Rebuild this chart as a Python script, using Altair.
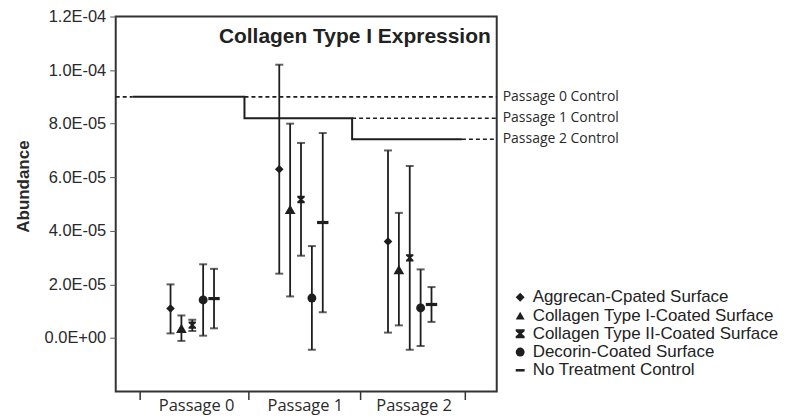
import json
import altair as alt
import pandas as pd

# ---------------- data ----------------
passages = ["Passage 0", "Passage 1", "Passage 2"]
treatments = [
    "Aggrecan-Cpated Surface",
    "Collagen Type I-Coated Surface",
    "Collagen Type II-Coated Surface",
    "Decorin-Coated Surface",
    "No Treatment Control",
]

aggrecan_mean = [1.10e-5, 6.30e-5, 3.60e-5]
aggrecan_low = [1.7e-6, 2.40e-5, 2.0e-6]
aggrecan_high = [2.00e-5, 1.02e-4, 7.00e-5]

col1_mean = [3.6e-6, 4.80e-5, 2.55e-5]
col1_low = [-1.1e-6, 1.55e-5, 4.7e-6]
col1_high = [8.4e-6, 8.00e-5, 4.67e-5]

col2_mean = [4.8e-6, 5.17e-5, 2.99e-5]
col2_low = [2.6e-6, 3.07e-5, -4.4e-6]
col2_high = [6.8e-6, 7.28e-5, 6.42e-5]

decorin_mean = [1.42e-5, 1.49e-5, 1.12e-5]
decorin_low = [8.5e-7, -4.4e-6, -3.0e-6]
decorin_high = [2.75e-5, 3.43e-5, 2.56e-5]

notreat_mean = [1.47e-5, 4.31e-5, 1.25e-5]
notreat_low = [3.6e-6, 9.6e-6, 6.0e-6]
notreat_high = [2.58e-5, 7.65e-5, 1.90e-5]

control_labels = ["Passage 0 Control", "Passage 1 Control", "Passage 2 Control"]
control_values = [9.0e-5, 8.2e-5, 7.42e-5]
control_step_x = [-0.55, 0.48, 1.47, 2.48]

y_tick_values = [0.0, 2e-5, 4e-5, 6e-5, 8e-5, 1.0e-4, 1.2e-4]
y_tick_labels = ["0.0E+00", "2.0E-05", "4.0E-05", "6.0E-05", "8.0E-05", "1.0E-04", "1.2E-04"]
x_tick_values = [-0.48, 0.52, 1.54, 2.51]

title_text = "Collagen Type I Expression"
y_title = "Abundance"

# ---------------- tables ----------------
means = [aggrecan_mean, col1_mean, col2_mean, decorin_mean, notreat_mean]
lows = [aggrecan_low, col1_low, col2_low, decorin_low, notreat_low]
highs = [aggrecan_high, col1_high, col2_high, decorin_high, notreat_high]

hourglass = "M-1,-1L1,-1L1,-0.55L0.35,0L1,0.55L1,1L-1,1L-1,0.55L-0.35,0L-1,-0.55Z"
dash = "M-1,-0.28L1,-0.28L1,0.28L-1,0.28Z"
shapes = ["diamond", "triangle-up", hourglass, "circle", dash]
marker_sizes = [75, 115, 55, 80, 130]

rows = []
for ti, t in enumerate(treatments):
    for gi, p in enumerate(passages):
        rows.append({
            "treatment": t,
            "passage": p,
            "x": gi + (ti - 2) * 0.1,
            "mean": means[ti][gi],
            "low": lows[ti][gi],
            "high": highs[ti][gi],
            "sz": marker_sizes[ti],
        })
df = pd.DataFrame(rows)

xmin, xmax = -0.704, 2.8
ymin, ymax = -2e-5, 1.2e-4

step_df = pd.DataFrame({"x": control_step_x,
                        "y": control_values + [control_values[-1]]})
dash_df = pd.DataFrame({
    "x": [xmin, control_step_x[1], control_step_x[2], control_step_x[3]],
    "x2": [control_step_x[0], xmax, xmax, xmax],
    "y": [control_values[0], control_values[0], control_values[1], control_values[2]],
})
ctrl_df = pd.DataFrame({"label": control_labels, "y": control_values, "x": [xmax] * 3})
cat_df = pd.DataFrame({"label": passages, "x": [i + 0.04 for i in range(len(passages))]})

# ---------------- scales / encodings ----------------
xs = alt.Scale(domain=[xmin, xmax], nice=False, zero=False)
ys = alt.Scale(domain=[ymin, ymax], nice=False, zero=False)

label_expr = json.dumps(y_tick_labels) + "[round(datum.value / 2e-5)]"

x_axis = alt.Axis(values=x_tick_values, labels=False, domain=False, grid=False,
                  ticks=True, tickSize=8, tickWidth=1.5, tickColor="#333", title=None)
y_axis = alt.Axis(values=y_tick_values, labelExpr=label_expr, domain=False, grid=False,
                  tickSize=6, tickWidth=1, tickColor="#555",
                  labelFont="Liberation Sans", labelFontSize=16.5, labelColor="#2a2a2a",
                  labelPadding=4,
                  title=y_title, titleFont="Liberation Sans", titleFontSize=17,
                  titleFontWeight="bold", titleColor="#2a2a2a",
                  titleX=-83, titleY=170)

INK = "#1e1e1e"

bars = alt.Chart(df).mark_rule(color=INK, strokeWidth=1.8).encode(
    x=alt.X("x:Q", scale=xs, axis=x_axis),
    y=alt.Y("low:Q", scale=ys, axis=y_axis),
    y2="high:Q",
)
cap_lo = alt.Chart(df).mark_tick(color=INK, orient="horizontal", size=8, thickness=2).encode(
    x=alt.X("x:Q", scale=xs), y=alt.Y("low:Q", scale=ys))
cap_hi = alt.Chart(df).mark_tick(color=INK, orient="horizontal", size=8, thickness=2).encode(
    x=alt.X("x:Q", scale=xs), y=alt.Y("high:Q", scale=ys))

points = alt.Chart(df).mark_point(filled=True, opacity=1, color=INK, strokeWidth=0).encode(
    x=alt.X("x:Q", scale=xs),
    y=alt.Y("mean:Q", scale=ys),
    shape=alt.Shape("treatment:N",
                    scale=alt.Scale(domain=treatments, range=shapes),
                    legend=alt.Legend(title=None, orient="none", legendX=397, legendY=273,
                                      padding=0, labelFont="Liberation Sans",
                                      labelFontSize=17, labelColor="#222", labelLimit=0,
                                      symbolSize=80, symbolFillColor=INK,
                                      symbolStrokeWidth=0, labelOffset=4,
                                      rowPadding=0.3)),
    size=alt.Size("sz:Q", scale=None),
)

step = alt.Chart(step_df).mark_line(interpolate="step-after", color=INK, strokeWidth=2).encode(
    x=alt.X("x:Q", scale=xs), y=alt.Y("y:Q", scale=ys))

dashes = alt.Chart(dash_df).mark_rule(color=INK, strokeWidth=1.6, strokeDash=[4, 3]).encode(
    x=alt.X("x:Q", scale=xs), x2="x2:Q", y=alt.Y("y:Q", scale=ys))

ctrl_text = alt.Chart(ctrl_df).mark_text(align="left", baseline="middle", dx=6,
                                         font="Open Sans", fontSize=14, color="#2a2a2a").encode(
    x=alt.X("x:Q", scale=xs), y=alt.Y("y:Q", scale=ys), text="label:N")

cat_text = alt.Chart(cat_df).mark_text(align="center", baseline="alphabetic",
                                       font="Open Sans", fontSize=16.5, color="#2a2a2a").encode(
    x=alt.X("x:Q", scale=xs), y=alt.value(396), text="label:N")

title = alt.Chart(pd.DataFrame({"t": [title_text]})).mark_text(
    align="right", baseline="alphabetic", font="Liberation Sans", fontSize=21,
    fontWeight="bold", color="#222").encode(
    x=alt.value(376), y=alt.value(27), text="t:N")

chart = alt.layer(dashes, step, bars, cap_lo, cap_hi, points, ctrl_text, cat_text, title).properties(
    width=382, height=376,
    autosize=alt.AutoSizeParams(type="none"),
    padding={"left": 108, "top": 8, "right": 286, "bottom": 24},
).configure_view(stroke="#333", strokeWidth=2)

chart.save("out.html", embed_options={"renderer": "svg", "actions": False})
